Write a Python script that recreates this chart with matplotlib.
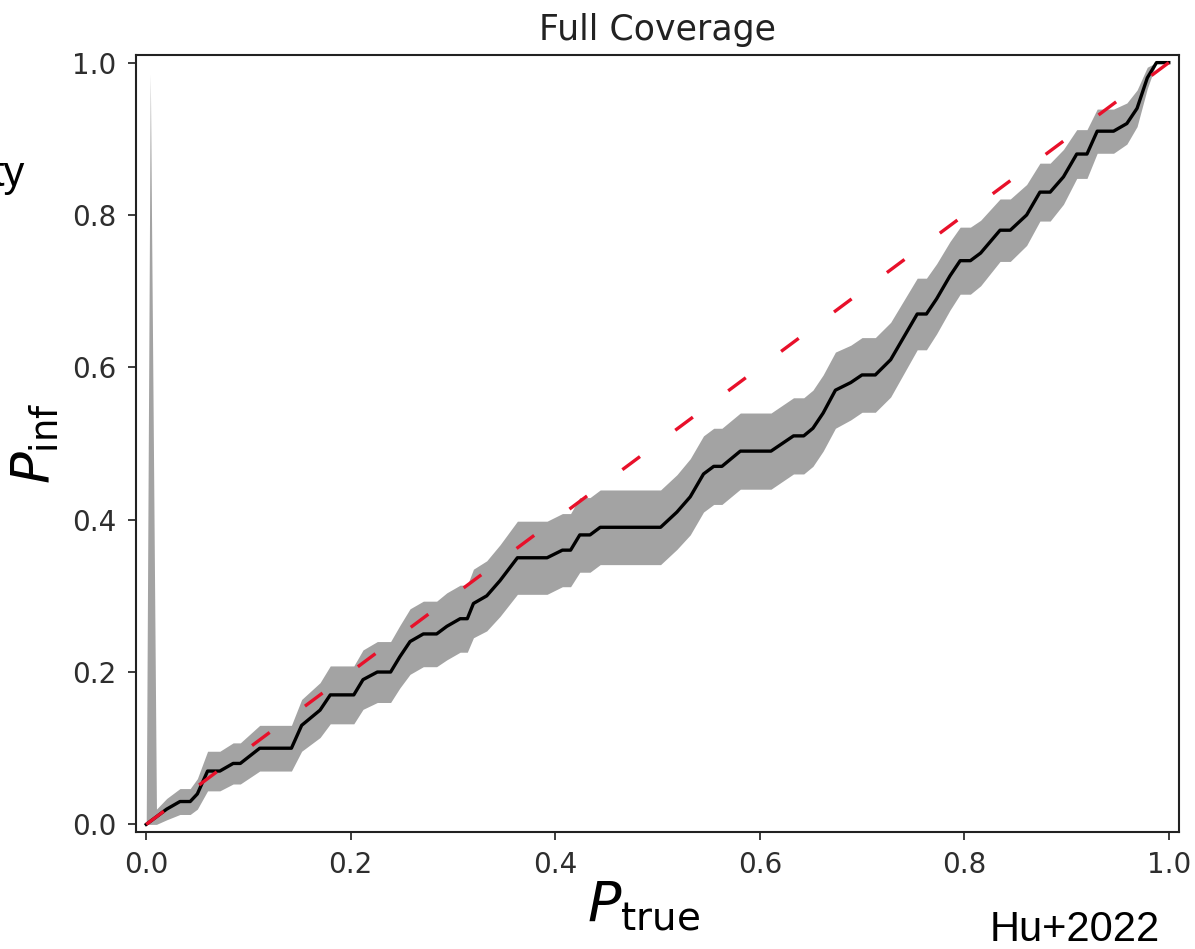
import matplotlib
matplotlib.use("Agg")
import matplotlib.pyplot as plt

# Empirical coverage curve: vertices of P_inf against P_true
p_true = [0.000, 0.010, 0.020, 0.033, 0.043, 0.050, 0.060, 0.072, 0.085, 0.092,
          0.111, 0.142, 0.152, 0.170, 0.180, 0.193, 0.203, 0.212, 0.226, 0.239,
          0.248, 0.258, 0.271, 0.284, 0.294, 0.307, 0.314, 0.320, 0.333, 0.346,
          0.363, 0.392, 0.407, 0.415, 0.424, 0.434, 0.444, 0.503, 0.519, 0.532,
          0.545, 0.555, 0.563, 0.581, 0.611, 0.633, 0.643, 0.652, 0.662, 0.674,
          0.689, 0.700, 0.713, 0.728, 0.741, 0.754, 0.763, 0.773, 0.786, 0.796,
          0.806, 0.816, 0.835, 0.845, 0.861, 0.874, 0.884, 0.897, 0.910, 0.920,
          0.930, 0.936, 0.946, 0.959, 0.969, 0.979, 0.988, 1.000]
p_inf = [0.00, 0.01, 0.02, 0.03, 0.03, 0.04, 0.07, 0.07, 0.08, 0.08,
         0.10, 0.10, 0.13, 0.15, 0.17, 0.17, 0.17, 0.19, 0.20, 0.20,
         0.22, 0.24, 0.25, 0.25, 0.26, 0.27, 0.27, 0.29, 0.30, 0.32,
         0.35, 0.35, 0.36, 0.36, 0.38, 0.38, 0.39, 0.39, 0.41, 0.43,
         0.46, 0.47, 0.47, 0.49, 0.49, 0.51, 0.51, 0.52, 0.54, 0.57,
         0.58, 0.59, 0.59, 0.61, 0.64, 0.67, 0.67, 0.69, 0.72, 0.74,
         0.74, 0.75, 0.78, 0.78, 0.80, 0.83, 0.83, 0.85, 0.88, 0.88,
         0.91, 0.91, 0.91, 0.92, 0.94, 0.98, 1.00, 1.00]

# Uncertainty band (includes the narrow spike next to the origin)
band_x = [0.000, 0.004] + p_true[1:]
band_lo = [0.000, 0.000, 0.000, 0.006, 0.013, 0.013, 0.020, 0.044, 0.044, 0.053, 0.053,
           0.070, 0.070, 0.096, 0.114, 0.132, 0.132, 0.132, 0.151, 0.160, 0.160,
           0.179, 0.197, 0.207, 0.207, 0.216, 0.226, 0.226, 0.245, 0.254, 0.273,
           0.302, 0.302, 0.312, 0.312, 0.331, 0.331, 0.341, 0.341, 0.361, 0.380,
           0.410, 0.420, 0.420, 0.440, 0.440, 0.460, 0.460, 0.470, 0.490, 0.520,
           0.531, 0.541, 0.541, 0.561, 0.592, 0.623, 0.623, 0.644, 0.675, 0.696,
           0.696, 0.707, 0.739, 0.739, 0.760, 0.792, 0.792, 0.814, 0.848, 0.848,
           0.881, 0.881, 0.881, 0.893, 0.916, 0.966, 1.000, 1.000]
band_hi = [0.000, 0.985, 0.020, 0.034, 0.047, 0.047, 0.060, 0.096, 0.096, 0.107, 0.107,
           0.130, 0.130, 0.164, 0.186, 0.208, 0.208, 0.208, 0.229, 0.240, 0.240,
           0.261, 0.283, 0.293, 0.293, 0.304, 0.314, 0.314, 0.335, 0.346, 0.367,
           0.398, 0.398, 0.408, 0.408, 0.429, 0.429, 0.439, 0.439, 0.459, 0.480,
           0.510, 0.520, 0.520, 0.540, 0.540, 0.560, 0.560, 0.570, 0.590, 0.620,
           0.629, 0.639, 0.639, 0.659, 0.688, 0.717, 0.717, 0.736, 0.765, 0.784,
           0.784, 0.793, 0.821, 0.821, 0.840, 0.868, 0.868, 0.886, 0.912, 0.912,
           0.939, 0.939, 0.939, 0.947, 0.964, 0.994, 1.000, 1.000]

diag = [0.0, 1.0]
ticks = [0.0, 0.2, 0.4, 0.6, 0.8, 1.0]
tick_labels = ["0.0", "0.2", "0.4", "0.6", "0.8", "1.0"]

plt.rcParams["lines.scale_dashes"] = False

W, H = 1195, 949
fig = plt.figure(figsize=(W / 100, H / 100), dpi=100)
ax = fig.add_axes([136 / W, (H - 832) / H, (1179 - 136) / W, 777 / H])

ax.fill_between(band_x, band_lo, band_hi, color="#a3a3a3", linewidth=0, zorder=1)
ax.plot(p_true, p_inf, color="black", linewidth=2.4, zorder=2)
ax.plot(diag, diag, color="#e8102a", linewidth=2.4, dashes=(15.8, 31.7), zorder=3)

ax.set_xlim(-0.01, 1.01)
ax.set_ylim(-0.01, 1.01)
ax.set_xticks(ticks)
ax.set_xticklabels(tick_labels)
ax.set_yticks(ticks)
ax.set_yticklabels(tick_labels)
ax.tick_params(labelsize=20, length=6, width=1.3, colors="#2e2e2e", pad=8)
for s in ax.spines.values():
    s.set_linewidth(1.5)
    s.set_color("#222222")

ax.set_title("Full Coverage", fontsize=25, color="#222222", pad=11)
ax.set_xlabel(r"$P_{\rm true}$", fontsize=40, labelpad=2)
ax.xaxis.set_label_coords(0.487, -0.06, transform=ax.transAxes)
ax.xaxis.label.set_va("top")
ax.set_ylabel(r"$P_{\rm inf}$", fontsize=38, labelpad=8)

fig.text(25 / W, 1 - 175 / H, "ty", family="Liberation Sans", fontsize=30,
         ha="right", va="center")
fig.text(1160 / W, 1 - 941 / H, "Hu+2022", family="Liberation Sans", fontsize=30,
         ha="right", va="baseline")

fig.savefig("out.png", dpi=100)
